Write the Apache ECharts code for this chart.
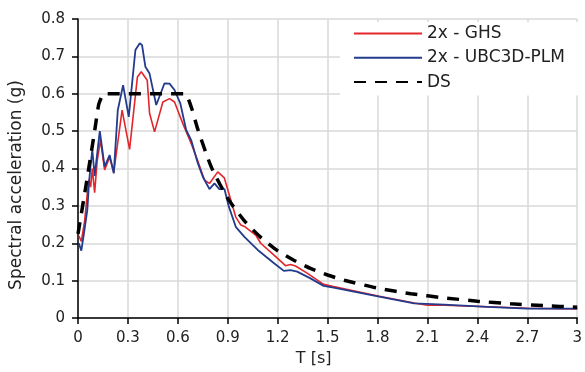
<!DOCTYPE html>
<html><head><meta charset="utf-8">
<script src="https://cdn.jsdelivr.net/npm/echarts@6/dist/echarts.min.js"></script>
<style>html,body{margin:0;padding:0;background:#fff}#c{width:585px;height:372px}</style>
</head><body><div id="c"></div>
<script>
// Period T [s], spectral acceleration [g]
const ghs = [
  [0.005,0.22],[0.02,0.205],[0.04,0.26],[0.056,0.334],[0.066,0.37],[0.076,0.35],[0.086,0.40],
  [0.10,0.335],[0.115,0.42],[0.135,0.476],[0.16,0.396],[0.19,0.43],[0.215,0.39],[0.265,0.556],
  [0.31,0.451],[0.357,0.645],[0.38,0.659],[0.416,0.636],[0.43,0.548],[0.46,0.498],[0.51,0.578],
  [0.55,0.587],[0.58,0.578],[0.63,0.52],[0.68,0.467],[0.72,0.42],[0.76,0.369],[0.79,0.36],
  [0.84,0.391],[0.879,0.375],[0.909,0.33],[0.948,0.27],[0.978,0.249],[1.0,0.245],[1.068,0.222],
  [1.098,0.20],[1.178,0.168],[1.247,0.14],[1.277,0.143],[1.307,0.139],[1.377,0.12],[1.476,0.09],
  [1.536,0.084],[1.81,0.058],[2.02,0.04],[2.1,0.034],[2.2,0.034],[2.46,0.03],[2.7,0.026],[3.0,0.024]
];
const ubc = [
  [0.005,0.20],[0.02,0.18],[0.036,0.227],[0.056,0.289],[0.066,0.36],[0.076,0.41],[0.086,0.45],
  [0.10,0.38],[0.131,0.50],[0.16,0.405],[0.19,0.436],[0.215,0.387],[0.239,0.556],[0.271,0.623],
  [0.305,0.538],[0.345,0.717],[0.371,0.735],[0.385,0.73],[0.405,0.672],[0.43,0.654],[0.47,0.57],
  [0.52,0.628],[0.55,0.627],[0.58,0.61],[0.615,0.574],[0.65,0.503],[0.68,0.476],[0.72,0.414],
  [0.75,0.378],[0.79,0.345],[0.82,0.36],[0.849,0.345],[0.88,0.345],[0.905,0.30],[0.948,0.244],
  [1.0,0.217],[1.08,0.182],[1.18,0.146],[1.237,0.126],[1.277,0.128],[1.317,0.124],[1.397,0.106],
  [1.476,0.086],[1.536,0.081],[1.81,0.057],[2.02,0.039],[2.2,0.036],[2.46,0.03],[2.7,0.025],[3.0,0.025]
];
const ds = [
  [0,0.225],[0.05,0.36],[0.1,0.50],[0.125,0.572],[0.15,0.598],[0.17,0.6],[0.64,0.6],[0.68,0.565],
  [0.72,0.505],[0.8,0.405],[0.9,0.32],[1.0,0.26],[1.1,0.215],[1.2,0.18],[1.3,0.154],[1.4,0.132],[1.5,0.115],
  [1.6,0.101],[1.8,0.08],[2.0,0.065],[2.2,0.054],[2.4,0.045],[2.6,0.038],[2.8,0.033],[3.0,0.029]
];
const seriesNames = ['2x - GHS','2x - UBC3D-PLM','DS'];
const xTitle = 'T [s]';
const yTitle = 'Spectral acceleration (g)';

const FONT = 'DejaVu Sans';
const chart = echarts.init(document.getElementById('c'), null, {renderer:'canvas'});
const fmt = v => String(+v.toFixed(1));
chart.setOption({
  animation:false,
  backgroundColor:'#fff',
  grid:{left:78,right:5,top:19,bottom:54,containLabel:false},
  legend:{
    orient:'vertical', left:340, top:22,
    padding:[3,13,5,13], itemGap:7.3, itemWidth:68, itemHeight:14,
    backgroundColor:'#fff', borderWidth:0,
    itemStyle:{opacity:0},
    textStyle:{fontFamily:FONT,fontSize:17,color:'#222',lineHeight:16},
    data:seriesNames
  },
  xAxis:{
    type:'value', min:0, max:3, interval:0.3,
    name:xTitle, nameLocation:'middle', nameGap:33,
    nameTextStyle:{fontFamily:FONT,fontSize:16,color:'#222',padding:[0,28,0,0]},
    axisLine:{lineStyle:{color:'#000',width:1.5}},
    axisTick:{show:true,length:6,lineStyle:{color:'#000',width:1.5}},
    axisLabel:{fontFamily:FONT,fontSize:15,color:'#222',margin:13,formatter:fmt},
    splitLine:{show:true,lineStyle:{color:'#d9d9d9',width:1.5}}
  },
  yAxis:{
    type:'value', min:0, max:0.8, interval:0.1,
    name:yTitle, nameLocation:'middle', nameGap:53, nameRotate:90,
    nameTextStyle:{fontFamily:FONT,fontSize:17,color:'#222',padding:[0,33,0,0]},
    axisLine:{show:true,lineStyle:{color:'#000',width:1.5}},
    axisTick:{show:true,length:6,lineStyle:{color:'#000',width:1.5}},
    axisLabel:{fontFamily:FONT,fontSize:15,color:'#222',margin:13,formatter:fmt},
    splitLine:{show:true,lineStyle:{color:'#d9d9d9',width:1.5}}
  },
  series:[
    {name:seriesNames[0],type:'line',data:ghs,showSymbol:false,symbol:'none',
     lineStyle:{color:'#e3262b',width:1.6},itemStyle:{color:'#e3262b'}},
    {name:seriesNames[1],type:'line',data:ubc,showSymbol:false,symbol:'none',
     lineStyle:{color:'#233b8c',width:1.8},itemStyle:{color:'#233b8c'}},
    {name:seriesNames[2],type:'line',data:ds,showSymbol:false,symbol:'none',smooth:0.2,
     lineStyle:{color:'#000',width:3.5,type:[12,9]},itemStyle:{color:'#000'}}
  ]
});
</script></body></html>
